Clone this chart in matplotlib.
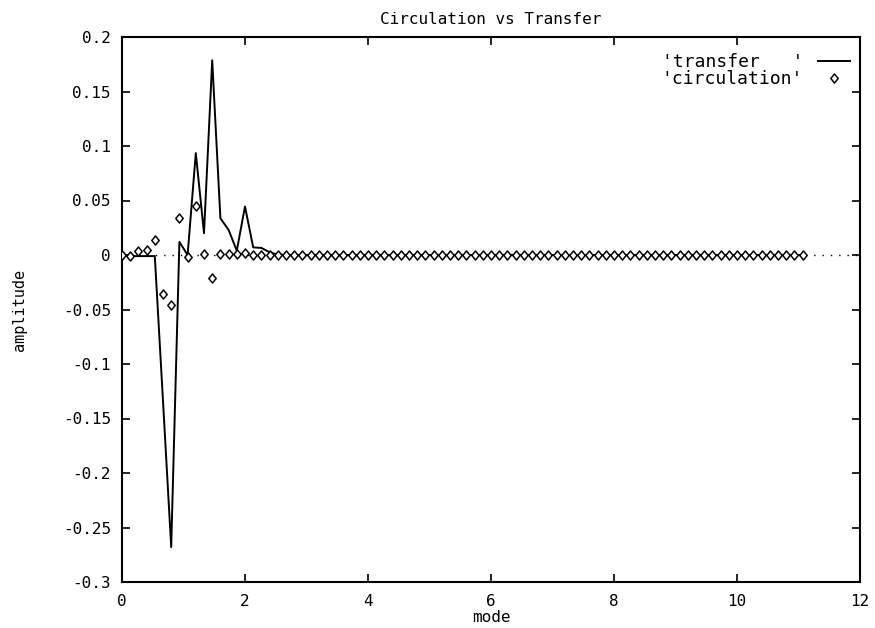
import numpy as np
import matplotlib
matplotlib.use("Agg")
import matplotlib.pyplot as plt
from matplotlib.path import Path

# ---- data ----
mode_step = 2.0 / 15.0          # spacing between modes
n_points = 84
modes = np.arange(n_points) * mode_step

transfer = [
    0.000, -0.001, -0.001, -0.001, -0.001, -0.134, -0.268, 0.012, 0.000, 0.0935,
    0.020, 0.1786, 0.0337, 0.023, 0.004, 0.0445, 0.007, 0.0065, 0.0025, 0.0005,
    0.0, 0.0, 0.0, 0.0, 0.0, 0.0, 0.0, 0.0, 0.0, 0.0,
    0.0, 0.0, 0.0, 0.0, 0.0, 0.0, 0.0, 0.0, 0.0, 0.0,
    0.0, 0.0, 0.0, 0.0, 0.0, 0.0, 0.0, 0.0, 0.0, 0.0,
    0.0, 0.0, 0.0, 0.0, 0.0, 0.0, 0.0, 0.0, 0.0, 0.0,
    0.0, 0.0, 0.0, 0.0, 0.0, 0.0, 0.0, 0.0, 0.0, 0.0,
    0.0, 0.0, 0.0, 0.0, 0.0, 0.0, 0.0, 0.0, 0.0, 0.0,
    0.0, 0.0, 0.0, 0.0,
]

circulation = [
    0.000, -0.001, 0.004, 0.005, 0.014, -0.036, -0.046, 0.034, -0.002, 0.045,
    0.001, -0.021, 0.001, 0.001, 0.001, 0.002, 0.0, 0.0, 0.0, 0.0,
    0.0, 0.0, 0.0, 0.0, 0.0, 0.0, 0.0, 0.0, 0.0, 0.0,
    0.0, 0.0, 0.0, 0.0, 0.0, 0.0, 0.0, 0.0, 0.0, 0.0,
    0.0, 0.0, 0.0, 0.0, 0.0, 0.0, 0.0, 0.0, 0.0, 0.0,
    0.0, 0.0, 0.0, 0.0, 0.0, 0.0, 0.0, 0.0, 0.0, 0.0,
    0.0, 0.0, 0.0, 0.0, 0.0, 0.0, 0.0, 0.0, 0.0, 0.0,
    0.0, 0.0, 0.0, 0.0, 0.0, 0.0, 0.0, 0.0, 0.0, 0.0,
    0.0, 0.0, 0.0, 0.0,
]

x_ticks = [0, 2, 4, 6, 8, 10, 12]
y_ticks = [0.2, 0.15, 0.1, 0.05, 0, -0.05, -0.1, -0.15, -0.2, -0.25, -0.3]
y_ticklabels = ["0.2", "0.15", "0.1", "0.05", "0", "-0.05", "-0.1",
                "-0.15", "-0.2", "-0.25", "-0.3"]

# ---- figure ----
plt.rcParams["font.family"] = ["DejaVu Sans Mono"]
fig = plt.figure(figsize=(8.75, 6.28), dpi=100)
W, H = 875, 628
left, right, top, bottom = 122, 860, 37, 582
ax = fig.add_axes([left / W, 1 - bottom / H, (right - left) / W, (bottom - top) / H])

ax.axhline(0, color="black", lw=1.0, ls=(0, (1, 5)), zorder=1)

diamond = Path([(0, 1), (0.82, 0), (0, -1), (-0.82, 0), (0, 1)],
               [Path.MOVETO, Path.LINETO, Path.LINETO, Path.LINETO, Path.CLOSEPOLY])

ax.plot(modes, transfer, color="black", lw=1.4, label="'transfer   '", zorder=2)
ax.plot(modes, circulation, ls="none", marker=diamond, markersize=6.5,
        markerfacecolor="white", markeredgecolor="black", markeredgewidth=1.1,
        label="'circulation'", zorder=3)

ax.set_xlim(0, 12)
ax.set_ylim(-0.3, 0.2)
ax.set_xticks(x_ticks)
ax.set_xticklabels([str(t) for t in x_ticks])
ax.set_yticks(y_ticks)
ax.set_yticklabels(y_ticklabels)
ax.tick_params(direction="in", length=6, width=1.2, top=True, right=True,
               labelsize=11.5, color="black")
ax.tick_params(axis="x", pad=9)
ax.tick_params(axis="y", pad=8)
for s in ax.spines.values():
    s.set_linewidth(1.5)

ax.set_title("Circulation vs Transfer", fontsize=11.5, pad=9)
ax.set_xlabel("mode", fontsize=11.5)
ax.xaxis.set_label_coords(0.5, (bottom - 617) / (bottom - top))
ax.xaxis.label.set_va("center")
ax.set_ylabel("amplitude", fontsize=11)
ax.yaxis.set_label_coords((20 - left) / (right - left), 0.5)
ax.yaxis.label.set_va("center")

leg = ax.legend(loc="upper right",
                bbox_to_anchor=((850 - left) / (right - left), (bottom - 53) / (bottom - top)),
                frameon=False, markerfirst=False, prop={"family": "DejaVu Sans Mono", "size": 13},
                handlelength=1.8, handletextpad=0.8, borderpad=0, borderaxespad=0,
                labelspacing=-0.05)

fig.savefig("out.png", dpi=100)
